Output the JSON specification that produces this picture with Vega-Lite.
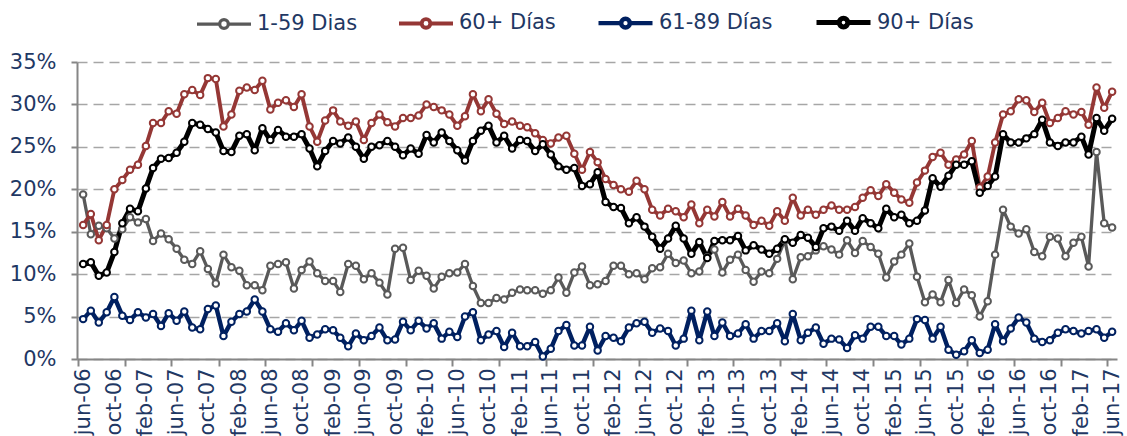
{
"$schema": "https://vega.github.io/schema/vega-lite/v6.json",
"width": 1040, "height": 297,
"autosize": "none",
"padding": {"left": 77, "top": 62, "right": 10, "bottom": 77},
"background": "white",
"config": {"view": {"stroke": null}, "font": "DejaVu Sans"},
"data": {"values": [
{"d":"2006-06-01","1-59 Dias":19.4,"60+ Días":15.8,"61-89 Días":4.7,"90+ Días":11.2},
{"d":"2006-07-01","1-59 Dias":14.7,"60+ Días":17.1,"61-89 Días":5.7,"90+ Días":11.4},
{"d":"2006-08-01","1-59 Dias":15.7,"60+ Días":14.0,"61-89 Días":4.3,"90+ Días":9.8},
{"d":"2006-09-01","1-59 Dias":15.4,"60+ Días":15.8,"61-89 Días":5.5,"90+ Días":10.2},
{"d":"2006-10-01","1-59 Dias":14.2,"60+ Días":20.0,"61-89 Días":7.3,"90+ Días":12.6},
{"d":"2006-11-01","1-59 Dias":15.3,"60+ Días":21.1,"61-89 Días":5.1,"90+ Días":16.0},
{"d":"2006-12-01","1-59 Dias":16.7,"60+ Días":22.3,"61-89 Días":4.6,"90+ Días":17.7},
{"d":"2007-01-01","1-59 Dias":16.1,"60+ Días":22.9,"61-89 Días":5.5,"90+ Días":17.4},
{"d":"2007-02-01","1-59 Dias":16.5,"60+ Días":25.1,"61-89 Días":4.9,"90+ Días":20.1},
{"d":"2007-03-01","1-59 Dias":13.9,"60+ Días":27.8,"61-89 Días":5.3,"90+ Días":22.5},
{"d":"2007-04-01","1-59 Dias":14.8,"60+ Días":27.8,"61-89 Días":3.9,"90+ Días":23.6},
{"d":"2007-05-01","1-59 Dias":14.1,"60+ Días":29.2,"61-89 Días":5.4,"90+ Días":23.7},
{"d":"2007-06-01","1-59 Dias":13.0,"60+ Días":28.9,"61-89 Días":4.5,"90+ Días":24.3},
{"d":"2007-07-01","1-59 Dias":11.7,"60+ Días":31.2,"61-89 Días":5.6,"90+ Días":25.6},
{"d":"2007-08-01","1-59 Dias":11.2,"60+ Días":31.7,"61-89 Días":3.7,"90+ Días":27.8},
{"d":"2007-09-01","1-59 Dias":12.7,"60+ Días":31.1,"61-89 Días":3.5,"90+ Días":27.6},
{"d":"2007-10-01","1-59 Dias":10.6,"60+ Días":33.1,"61-89 Días":5.9,"90+ Días":27.1},
{"d":"2007-11-01","1-59 Dias":8.9,"60+ Días":33.0,"61-89 Días":6.3,"90+ Días":26.7},
{"d":"2007-12-01","1-59 Dias":12.3,"60+ Días":27.4,"61-89 Días":2.7,"90+ Días":24.5},
{"d":"2008-01-01","1-59 Dias":10.8,"60+ Días":28.8,"61-89 Días":4.4,"90+ Días":24.4},
{"d":"2008-02-01","1-59 Dias":10.4,"60+ Días":31.6,"61-89 Días":5.3,"90+ Días":26.3},
{"d":"2008-03-01","1-59 Dias":8.7,"60+ Días":32.0,"61-89 Días":5.6,"90+ Días":26.5},
{"d":"2008-04-01","1-59 Dias":8.7,"60+ Días":31.7,"61-89 Días":7.0,"90+ Días":24.6},
{"d":"2008-05-01","1-59 Dias":8.1,"60+ Días":32.8,"61-89 Días":5.6,"90+ Días":27.2},
{"d":"2008-06-01","1-59 Dias":11.0,"60+ Días":29.4,"61-89 Días":3.5,"90+ Días":25.8},
{"d":"2008-07-01","1-59 Dias":11.2,"60+ Días":30.2,"61-89 Días":3.2,"90+ Días":27.0},
{"d":"2008-08-01","1-59 Dias":11.4,"60+ Días":30.5,"61-89 Días":4.2,"90+ Días":26.2},
{"d":"2008-09-01","1-59 Dias":8.3,"60+ Días":29.7,"61-89 Días":3.4,"90+ Días":26.2},
{"d":"2008-10-01","1-59 Dias":10.5,"60+ Días":31.2,"61-89 Días":4.5,"90+ Días":26.5},
{"d":"2008-11-01","1-59 Dias":11.5,"60+ Días":27.4,"61-89 Días":2.5,"90+ Días":24.8},
{"d":"2008-12-01","1-59 Dias":10.1,"60+ Días":25.6,"61-89 Días":2.9,"90+ Días":22.7},
{"d":"2009-01-01","1-59 Dias":9.2,"60+ Días":28.1,"61-89 Días":3.5,"90+ Días":24.5},
{"d":"2009-02-01","1-59 Dias":9.2,"60+ Días":29.3,"61-89 Días":3.4,"90+ Días":25.7},
{"d":"2009-03-01","1-59 Dias":7.9,"60+ Días":28.0,"61-89 Días":2.5,"90+ Días":25.4},
{"d":"2009-04-01","1-59 Dias":11.2,"60+ Días":27.5,"61-89 Días":1.5,"90+ Días":26.1},
{"d":"2009-05-01","1-59 Dias":11.0,"60+ Días":28.0,"61-89 Días":3.0,"90+ Días":25.0},
{"d":"2009-06-01","1-59 Dias":9.4,"60+ Días":25.8,"61-89 Días":2.2,"90+ Días":23.6},
{"d":"2009-07-01","1-59 Dias":10.1,"60+ Días":27.8,"61-89 Días":2.7,"90+ Días":25.0},
{"d":"2009-08-01","1-59 Dias":9.0,"60+ Días":28.8,"61-89 Días":3.7,"90+ Días":25.2},
{"d":"2009-09-01","1-59 Dias":7.6,"60+ Días":27.9,"61-89 Días":2.2,"90+ Días":25.7},
{"d":"2009-10-01","1-59 Dias":13.0,"60+ Días":27.4,"61-89 Días":2.3,"90+ Días":25.0},
{"d":"2009-11-01","1-59 Dias":13.1,"60+ Días":28.4,"61-89 Días":4.4,"90+ Días":24.0},
{"d":"2009-12-01","1-59 Dias":9.3,"60+ Días":28.4,"61-89 Días":3.4,"90+ Días":24.8},
{"d":"2010-01-01","1-59 Dias":10.4,"60+ Días":28.7,"61-89 Días":4.5,"90+ Días":24.2},
{"d":"2010-02-01","1-59 Dias":9.8,"60+ Días":30.0,"61-89 Días":3.6,"90+ Días":26.4},
{"d":"2010-03-01","1-59 Dias":8.3,"60+ Días":29.7,"61-89 Días":4.2,"90+ Días":25.5},
{"d":"2010-04-01","1-59 Dias":9.7,"60+ Días":29.3,"61-89 Días":2.4,"90+ Días":26.7},
{"d":"2010-05-01","1-59 Dias":10.1,"60+ Días":28.8,"61-89 Días":3.2,"90+ Días":25.7},
{"d":"2010-06-01","1-59 Dias":10.2,"60+ Días":27.5,"61-89 Días":2.6,"90+ Días":24.6},
{"d":"2010-07-01","1-59 Dias":11.2,"60+ Días":28.6,"61-89 Días":5.0,"90+ Días":23.4},
{"d":"2010-08-01","1-59 Dias":8.6,"60+ Días":31.2,"61-89 Días":5.5,"90+ Días":25.7},
{"d":"2010-09-01","1-59 Dias":6.6,"60+ Días":29.2,"61-89 Días":2.2,"90+ Días":26.9},
{"d":"2010-10-01","1-59 Dias":6.6,"60+ Días":30.6,"61-89 Días":2.9,"90+ Días":27.5},
{"d":"2010-11-01","1-59 Dias":7.2,"60+ Días":28.9,"61-89 Días":3.3,"90+ Días":25.5},
{"d":"2010-12-01","1-59 Dias":7.0,"60+ Días":27.7,"61-89 Días":1.4,"90+ Días":26.3},
{"d":"2011-01-01","1-59 Dias":7.8,"60+ Días":28.0,"61-89 Días":3.1,"90+ Días":24.8},
{"d":"2011-02-01","1-59 Dias":8.2,"60+ Días":27.5,"61-89 Días":1.5,"90+ Días":25.8},
{"d":"2011-03-01","1-59 Dias":8.1,"60+ Días":27.3,"61-89 Días":1.5,"90+ Días":25.7},
{"d":"2011-04-01","1-59 Dias":8.1,"60+ Días":26.6,"61-89 Días":2.0,"90+ Días":24.5},
{"d":"2011-05-01","1-59 Dias":7.7,"60+ Días":25.8,"61-89 Días":0.3,"90+ Días":25.3},
{"d":"2011-06-01","1-59 Dias":8.1,"60+ Días":25.4,"61-89 Días":1.2,"90+ Días":24.1},
{"d":"2011-07-01","1-59 Dias":9.6,"60+ Días":26.1,"61-89 Días":3.3,"90+ Días":22.7},
{"d":"2011-08-01","1-59 Dias":7.8,"60+ Días":26.3,"61-89 Días":4.0,"90+ Días":22.3},
{"d":"2011-09-01","1-59 Dias":10.2,"60+ Días":24.2,"61-89 Días":1.6,"90+ Días":22.5},
{"d":"2011-10-01","1-59 Dias":10.9,"60+ Días":22.3,"61-89 Días":1.6,"90+ Días":20.4},
{"d":"2011-11-01","1-59 Dias":8.7,"60+ Días":24.4,"61-89 Días":3.8,"90+ Días":20.6},
{"d":"2011-12-01","1-59 Dias":8.8,"60+ Días":23.2,"61-89 Días":1.0,"90+ Días":22.0},
{"d":"2012-01-01","1-59 Dias":9.2,"60+ Días":21.2,"61-89 Días":2.7,"90+ Días":18.5},
{"d":"2012-02-01","1-59 Dias":11.0,"60+ Días":20.5,"61-89 Días":2.5,"90+ Días":17.9},
{"d":"2012-03-01","1-59 Dias":11.0,"60+ Días":20.0,"61-89 Días":2.1,"90+ Días":17.8},
{"d":"2012-04-01","1-59 Dias":10.0,"60+ Días":19.7,"61-89 Días":3.7,"90+ Días":16.0},
{"d":"2012-05-01","1-59 Dias":10.1,"60+ Días":21.0,"61-89 Días":4.2,"90+ Días":16.7},
{"d":"2012-06-01","1-59 Dias":9.4,"60+ Días":20.0,"61-89 Días":4.4,"90+ Días":15.6},
{"d":"2012-07-01","1-59 Dias":10.7,"60+ Días":17.6,"61-89 Días":3.1,"90+ Días":14.4},
{"d":"2012-08-01","1-59 Dias":10.8,"60+ Días":16.9,"61-89 Días":3.6,"90+ Días":13.0},
{"d":"2012-09-01","1-59 Dias":12.4,"60+ Días":17.7,"61-89 Días":3.3,"90+ Días":14.2},
{"d":"2012-10-01","1-59 Dias":11.3,"60+ Días":17.4,"61-89 Días":1.6,"90+ Días":15.7},
{"d":"2012-11-01","1-59 Dias":11.6,"60+ Días":16.7,"61-89 Días":2.4,"90+ Días":14.2},
{"d":"2012-12-01","1-59 Dias":10.1,"60+ Días":18.2,"61-89 Días":5.7,"90+ Días":12.4},
{"d":"2013-01-01","1-59 Dias":10.3,"60+ Días":16.0,"61-89 Días":2.2,"90+ Días":13.8},
{"d":"2013-02-01","1-59 Dias":12.0,"60+ Días":17.6,"61-89 Días":5.6,"90+ Días":11.9},
{"d":"2013-03-01","1-59 Dias":12.9,"60+ Días":16.8,"61-89 Días":2.7,"90+ Días":13.9},
{"d":"2013-04-01","1-59 Dias":10.2,"60+ Días":18.5,"61-89 Días":4.3,"90+ Días":14.0},
{"d":"2013-05-01","1-59 Dias":11.7,"60+ Días":16.8,"61-89 Días":2.7,"90+ Días":14.0},
{"d":"2013-06-01","1-59 Dias":12.3,"60+ Días":17.7,"61-89 Días":3.0,"90+ Días":14.5},
{"d":"2013-07-01","1-59 Dias":10.5,"60+ Días":16.9,"61-89 Días":4.1,"90+ Días":12.8},
{"d":"2013-08-01","1-59 Dias":9.1,"60+ Días":15.8,"61-89 Días":2.4,"90+ Días":13.4},
{"d":"2013-09-01","1-59 Dias":10.3,"60+ Días":16.3,"61-89 Días":3.3,"90+ Días":12.9},
{"d":"2013-10-01","1-59 Dias":10.1,"60+ Días":15.7,"61-89 Días":3.3,"90+ Días":12.4},
{"d":"2013-11-01","1-59 Dias":11.8,"60+ Días":17.4,"61-89 Días":4.2,"90+ Días":13.0},
{"d":"2013-12-01","1-59 Dias":14.0,"60+ Días":16.3,"61-89 Días":2.1,"90+ Días":14.1},
{"d":"2014-01-01","1-59 Dias":9.4,"60+ Días":19.0,"61-89 Días":5.3,"90+ Días":13.7},
{"d":"2014-02-01","1-59 Dias":12.0,"60+ Días":16.9,"61-89 Días":2.2,"90+ Días":14.6},
{"d":"2014-03-01","1-59 Dias":12.1,"60+ Días":17.6,"61-89 Días":3.1,"90+ Días":14.3},
{"d":"2014-04-01","1-59 Dias":12.8,"60+ Días":17.0,"61-89 Días":3.7,"90+ Días":13.2},
{"d":"2014-05-01","1-59 Dias":13.3,"60+ Días":17.6,"61-89 Días":1.8,"90+ Días":15.4},
{"d":"2014-06-01","1-59 Dias":12.9,"60+ Días":18.1,"61-89 Días":2.4,"90+ Días":15.6},
{"d":"2014-07-01","1-59 Dias":12.3,"60+ Días":17.6,"61-89 Días":2.3,"90+ Días":15.1},
{"d":"2014-08-01","1-59 Dias":14.0,"60+ Días":17.6,"61-89 Días":1.3,"90+ Días":16.3},
{"d":"2014-09-01","1-59 Dias":12.5,"60+ Días":17.9,"61-89 Días":2.8,"90+ Días":15.1},
{"d":"2014-10-01","1-59 Dias":13.9,"60+ Días":19.0,"61-89 Días":2.4,"90+ Días":16.6},
{"d":"2014-11-01","1-59 Dias":13.2,"60+ Días":19.9,"61-89 Días":3.8,"90+ Días":16.0},
{"d":"2014-12-01","1-59 Dias":12.4,"60+ Días":19.2,"61-89 Días":3.8,"90+ Días":15.4},
{"d":"2015-01-01","1-59 Dias":9.6,"60+ Días":20.6,"61-89 Días":2.7,"90+ Días":17.7},
{"d":"2015-02-01","1-59 Dias":11.5,"60+ Días":19.6,"61-89 Días":2.7,"90+ Días":16.7},
{"d":"2015-03-01","1-59 Dias":12.3,"60+ Días":18.8,"61-89 Días":1.7,"90+ Días":17.0},
{"d":"2015-04-01","1-59 Dias":13.6,"60+ Días":18.4,"61-89 Días":2.4,"90+ Días":16.0},
{"d":"2015-05-01","1-59 Dias":9.7,"60+ Días":20.8,"61-89 Días":4.7,"90+ Días":16.3},
{"d":"2015-06-01","1-59 Dias":6.7,"60+ Días":22.2,"61-89 Días":4.6,"90+ Días":17.5},
{"d":"2015-07-01","1-59 Dias":7.6,"60+ Días":23.8,"61-89 Días":2.4,"90+ Días":21.3},
{"d":"2015-08-01","1-59 Dias":6.7,"60+ Días":24.3,"61-89 Días":3.8,"90+ Días":20.3},
{"d":"2015-09-01","1-59 Dias":9.3,"60+ Días":22.9,"61-89 Días":1.1,"90+ Días":21.6},
{"d":"2015-10-01","1-59 Dias":6.6,"60+ Días":23.5,"61-89 Días":0.5,"90+ Días":22.9},
{"d":"2015-11-01","1-59 Dias":8.2,"60+ Días":24.1,"61-89 Días":0.9,"90+ Días":22.9},
{"d":"2015-12-01","1-59 Dias":7.5,"60+ Días":25.7,"61-89 Días":2.2,"90+ Días":23.3},
{"d":"2016-01-01","1-59 Dias":5.0,"60+ Días":20.2,"61-89 Días":0.7,"90+ Días":19.6},
{"d":"2016-02-01","1-59 Dias":6.8,"60+ Días":21.5,"61-89 Días":1.1,"90+ Días":20.4},
{"d":"2016-03-01","1-59 Dias":12.3,"60+ Días":25.5,"61-89 Días":4.1,"90+ Días":21.5},
{"d":"2016-04-01","1-59 Dias":17.6,"60+ Días":28.8,"61-89 Días":2.1,"90+ Días":26.5},
{"d":"2016-05-01","1-59 Dias":15.6,"60+ Días":29.2,"61-89 Días":3.6,"90+ Días":25.5},
{"d":"2016-06-01","1-59 Dias":14.8,"60+ Días":30.6,"61-89 Días":4.9,"90+ Días":25.5},
{"d":"2016-07-01","1-59 Dias":15.3,"60+ Días":30.5,"61-89 Días":4.3,"90+ Días":26.0},
{"d":"2016-08-01","1-59 Dias":12.6,"60+ Días":29.1,"61-89 Días":2.4,"90+ Días":26.5},
{"d":"2016-09-01","1-59 Dias":12.1,"60+ Días":30.2,"61-89 Días":2.0,"90+ Días":28.2},
{"d":"2016-10-01","1-59 Dias":14.4,"60+ Días":27.8,"61-89 Días":2.2,"90+ Días":25.5},
{"d":"2016-11-01","1-59 Dias":14.2,"60+ Días":28.4,"61-89 Días":3.1,"90+ Días":25.1},
{"d":"2016-12-01","1-59 Dias":12.1,"60+ Días":29.2,"61-89 Días":3.5,"90+ Días":25.5},
{"d":"2017-01-01","1-59 Dias":13.7,"60+ Días":28.8,"61-89 Días":3.3,"90+ Días":25.5},
{"d":"2017-02-01","1-59 Dias":14.4,"60+ Días":29.1,"61-89 Días":3.0,"90+ Días":26.2},
{"d":"2017-03-01","1-59 Dias":10.9,"60+ Días":27.6,"61-89 Días":3.3,"90+ Días":24.1},
{"d":"2017-04-01","1-59 Dias":24.4,"60+ Días":32.0,"61-89 Días":3.5,"90+ Días":28.4},
{"d":"2017-05-01","1-59 Dias":16.0,"60+ Días":29.6,"61-89 Días":2.5,"90+ Días":26.9},
{"d":"2017-06-01","1-59 Dias":15.5,"60+ Días":31.5,"61-89 Días":3.2,"90+ Días":28.3}
]},
"transform": [{"fold": ["1-59 Dias", "60+ Días", "61-89 Días", "90+ Días"], "as": ["serie", "valor"]}],
"encoding": {
  "y": {"field": "valor", "type": "quantitative",
    "scale": {"domain": [0, 35], "nice": false},
    "axis": {"values": [0, 5, 10, 15, 20, 25, 30, 35], "labelExpr": "datum.value + '%'", "title": null,
      "grid": true, "gridDash": [10, 6], "gridColor": "#A6A6A6", "gridWidth": 1.5,
      "domainColor": "#868686", "domainWidth": 2, "tickColor": "#868686", "tickWidth": 2, "tickSize": 6,
      "labelFont": "DejaVu Sans", "labelFontSize": 21, "labelColor": "#1F3864", "labelPadding": 15}},
  "color": {"field": "serie", "type": "nominal",
    "scale": {"domain": ["1-59 Dias", "60+ Días", "61-89 Días", "90+ Días"], "range": ["#595959", "#953735", "#002060", "#000000"]},
    "legend": {"orient": "none", "direction": "horizontal", "legendX": 118, "legendY": -69, "title": null,
      "symbolType": "M-1,0L-0.16,0M0.16,0L1,0M-0.16,0A0.16,0.16,0,1,1,0.16,0A0.16,0.16,0,1,1,-0.16,0Z",
      "symbolSize": 2916, "symbolStrokeWidth": 3.5, "symbolFillColor": "white", "symbolOpacity": 1,
      "labelFont": "DejaVu Sans", "labelFontSize": 21, "labelColor": "#1F3864", "labelOffset": 4,
      "columnPadding": 33, "labelLimit": 400, "padding": 0,
      "encode": {"symbols": {"update": {"fill": {"value": "white"}, "strokeWidth": {"value": 3.5}}}}}}
},
"layer": [
  {"mark": {"type": "line", "strokeJoin": "round"},
   "encoding": {
     "x": {"field": "d", "type": "temporal",
       "scale": {"type": "utc", "domain": [{"year": 2006, "month": 5, "date": 8, "utc": true}, {"year": 2017, "month": 6, "date": 20, "utc": true}]},
       "axis": {"title": null, "orient": "bottom",
         "values": [
           {"year":2006,"month":6,"date":1,"utc":true},{"year":2006,"month":10,"date":1,"utc":true},
           {"year":2007,"month":2,"date":1,"utc":true},{"year":2007,"month":6,"date":1,"utc":true},{"year":2007,"month":10,"date":1,"utc":true},
           {"year":2008,"month":2,"date":1,"utc":true},{"year":2008,"month":6,"date":1,"utc":true},{"year":2008,"month":10,"date":1,"utc":true},
           {"year":2009,"month":2,"date":1,"utc":true},{"year":2009,"month":6,"date":1,"utc":true},{"year":2009,"month":10,"date":1,"utc":true},
           {"year":2010,"month":2,"date":1,"utc":true},{"year":2010,"month":6,"date":1,"utc":true},{"year":2010,"month":10,"date":1,"utc":true},
           {"year":2011,"month":2,"date":1,"utc":true},{"year":2011,"month":6,"date":1,"utc":true},{"year":2011,"month":10,"date":1,"utc":true},
           {"year":2012,"month":2,"date":1,"utc":true},{"year":2012,"month":6,"date":1,"utc":true},{"year":2012,"month":10,"date":1,"utc":true},
           {"year":2013,"month":2,"date":1,"utc":true},{"year":2013,"month":6,"date":1,"utc":true},{"year":2013,"month":10,"date":1,"utc":true},
           {"year":2014,"month":2,"date":1,"utc":true},{"year":2014,"month":6,"date":1,"utc":true},{"year":2014,"month":10,"date":1,"utc":true},
           {"year":2015,"month":2,"date":1,"utc":true},{"year":2015,"month":6,"date":1,"utc":true},{"year":2015,"month":10,"date":1,"utc":true},
           {"year":2016,"month":2,"date":1,"utc":true},{"year":2016,"month":6,"date":1,"utc":true},{"year":2016,"month":10,"date":1,"utc":true},
           {"year":2017,"month":2,"date":1,"utc":true},{"year":2017,"month":6,"date":1,"utc":true}],
         "labelExpr": "lower(utcFormat(datum.value, '%b-%y'))",
         "labelAngle": -90, "labelAlign": "right", "labelBaseline": "middle",
         "ticks": false, "grid": false, "domainColor": "#868686", "domainWidth": 2,
         "labelPadding": 9, "labelFont": "DejaVu Sans", "labelFontSize": 21, "labelColor": "#1F3864",
         "labelOverlap": false, "labelFlush": false, "labelBound": false}},
     "strokeWidth": {"field": "serie", "type": "nominal",
       "scale": {"domain": ["1-59 Dias", "60+ Días", "61-89 Días", "90+ Días"], "range": [3.3, 5, 3.2, 3]}, "legend": null}
   }},
  {"mark": {"type": "point", "filled": false, "fill": "white", "size": 42, "strokeWidth": 2, "opacity": 1},
   "encoding": {
     "x": {"field": "d", "type": "temporal",
       "scale": {"type": "utc", "domain": [{"year": 2006, "month": 5, "date": 8, "utc": true}, {"year": 2017, "month": 6, "date": 20, "utc": true}]},
       "axis": {"title": null, "orient": "bottom", "labels": false, "domain": false, "grid": false,
         "ticks": true, "tickSize": 7, "tickWidth": 2, "tickColor": "#868686",
         "values": [
           {"year":2006,"month":5,"date":13,"utc":true},{"year":2006,"month":11,"date":12,"utc":true},
           {"year":2007,"month":5,"date":12,"utc":true},{"year":2007,"month":11,"date":12,"utc":true},
           {"year":2008,"month":5,"date":12,"utc":true},{"year":2008,"month":11,"date":12,"utc":true},
           {"year":2009,"month":5,"date":12,"utc":true},{"year":2009,"month":11,"date":12,"utc":true},
           {"year":2010,"month":5,"date":12,"utc":true},{"year":2010,"month":11,"date":12,"utc":true},
           {"year":2011,"month":5,"date":12,"utc":true},{"year":2011,"month":11,"date":12,"utc":true},
           {"year":2012,"month":5,"date":12,"utc":true},{"year":2012,"month":11,"date":12,"utc":true},
           {"year":2013,"month":5,"date":12,"utc":true},{"year":2013,"month":11,"date":12,"utc":true},
           {"year":2014,"month":5,"date":12,"utc":true},{"year":2014,"month":11,"date":12,"utc":true},
           {"year":2015,"month":5,"date":12,"utc":true},{"year":2015,"month":11,"date":12,"utc":true},
           {"year":2016,"month":5,"date":12,"utc":true},{"year":2016,"month":11,"date":12,"utc":true},
           {"year":2017,"month":5,"date":12,"utc":true}]}}
   }}
],
"resolve": {"axis": {"x": "independent"}}
}
